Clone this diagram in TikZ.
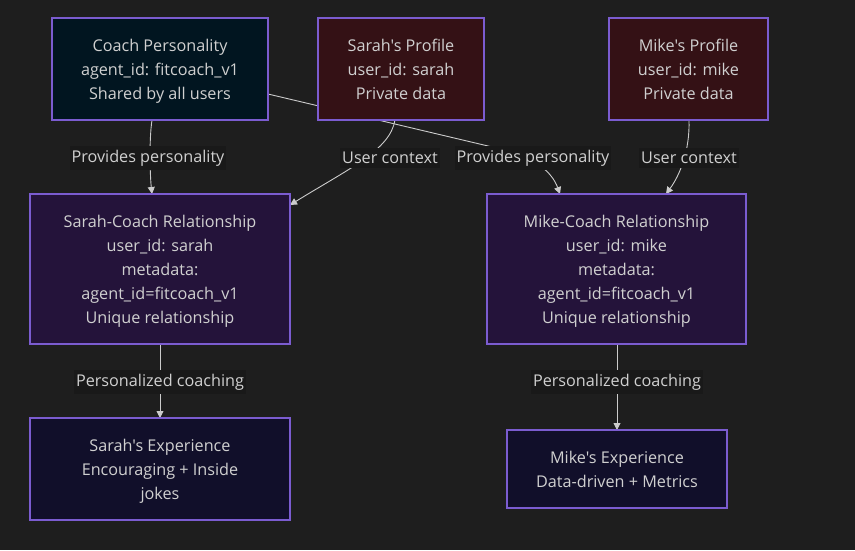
\documentclass[tikz,border=0pt]{standalone}
\usepackage{fontspec}
\setmainfont{Open Sans}[Ligatures=TeXOff]
\usetikzlibrary{arrows.meta}
\definecolor{bg}{HTML}{1E1E1E}
\definecolor{bord}{HTML}{7B5CD0}
\definecolor{coachfill}{HTML}{011520}
\definecolor{proffill}{HTML}{341115}
\definecolor{relfill}{HTML}{24133A}
\definecolor{expfill}{HTML}{110F2A}
\definecolor{txt}{HTML}{D0D0D0}
\definecolor{edge}{HTML}{CCCCCC}
\definecolor{lblbg}{HTML}{191919}
\tikzset{
  box/.style={draw=bord, line width=1.2pt, text=txt, align=center, font=\fontsize{16.2}{24}\selectfont, inner sep=0pt, text depth=0pt},
  coach/.style={box, fill=coachfill},
  prof/.style={box, fill=proffill},
  rel/.style={box, fill=relfill},
  expbox/.style={box, fill=expfill},
  lbl/.style={fill=lblbg, text=txt, font=\fontsize{16.2}{18}\selectfont, inner xsep=2pt, inner ysep=4pt},
  conn/.style={draw=edge, line width=0.9pt, -{Triangle[length=7pt,width=7pt]}},
}
\begin{document}
\begin{tikzpicture}[x=1pt,y=-1pt]
\fill[bg] (0,0) rectangle (855,550);
\useasboundingbox (0,0) rectangle (855,550);
% edges first
\coordinate (c1s) at (152,120);
\coordinate (c1e) at (152,194);
\coordinate (s1s) at (395,120);
\coordinate (s1e) at (290,205);
\coordinate (c2s) at (268,94);
\coordinate (c2e) at (560,194);
\coordinate (m1s) at (689,120);
\coordinate (m1e) at (666,194);
\coordinate (r1s) at (160,344);
\coordinate (r1e) at (160,418);
\coordinate (r2s) at (617,344);
\coordinate (r2e) at (617,430);
\draw[conn] (c1s) .. controls (149,140) and (150,175) .. (c1e);
\draw[conn] (s1s) .. controls (390,150) and (350,168) .. (s1e);
\draw[conn] (c2s) -- (505,150) .. controls (535,158) and (552,172) .. (c2e);
\draw[conn] (m1s) .. controls (690,150) and (680,175) .. (m1e);
\draw[conn] (r1s) -- (r1e);
\draw[conn] (r2s) -- (r2e);
% labels
\node[lbl] (l1) at (148,158) {Provides personality};
\node[lbl] (l2) at (390,158) {User context};
\node[lbl] (l3) at (533,158) {Provides personality};
\node[lbl] (l4) at (689,158) {User context};
\node[lbl] (l5) at (160,382) {Personalized coaching};
\node[lbl] (l6) at (617,382) {Personalized coaching};
% nodes
\node[coach, minimum width=216pt, minimum height=102pt] (coach) at (160,69) {Coach Personality\\agent\_id: fitcoach\_v1\\Shared by all users};
\node[prof, minimum width=166pt, minimum height=102pt] (sp) at (401,69) {Sarah's Profile\\user\_id: sarah\\Private data};
\node[prof, minimum width=159pt, minimum height=102pt] (mp) at (688.5,69) {Mike's Profile\\user\_id: mike\\Private data};
\node[rel, minimum width=260pt, minimum height=150pt] (sr) at (160,269) {Sarah-Coach Relationship\\user\_id: sarah\\metadata:\\agent\_id=fitcoach\_v1\\Unique relationship};
\node[rel, minimum width=259pt, minimum height=150pt] (mr) at (616.5,269) {Mike-Coach Relationship\\user\_id: mike\\metadata:\\agent\_id=fitcoach\_v1\\Unique relationship};
\node[expbox, minimum width=260pt, minimum height=102pt] (se) at (160,469) {Sarah's Experience\\Encouraging + Inside\\jokes};
\node[expbox, minimum width=220pt, minimum height=78pt] (me) at (617,469) {Mike's Experience\\Data-driven + Metrics};
\end{tikzpicture}
\end{document}
